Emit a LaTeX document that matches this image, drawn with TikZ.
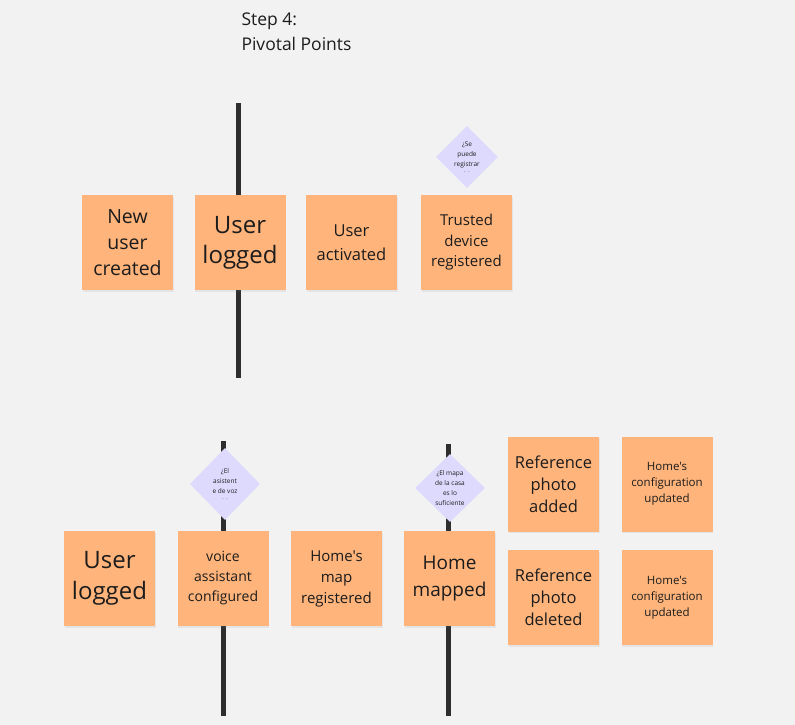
\documentclass[tikz,border=0pt]{standalone}
\usepackage{fontspec}
\setmainfont{Open Sans}[Ligatures=TeXOff]
\usetikzlibrary{shapes.geometric,shadows}
\definecolor{bgc}{HTML}{F2F2F2}
\definecolor{stickyc}{HTML}{FEB47B}
\definecolor{ideac}{HTML}{DDDAFD}
\definecolor{barc}{HTML}{2E2E2E}
\definecolor{inkc}{HTML}{1C1C1C}
\tikzset{
  sticky/.style={rectangle, fill=stickyc, minimum width=91pt, minimum height=95pt,
    inner sep=0pt, align=center, text=inkc, text width=86pt,
    drop shadow={shadow xshift=0.8pt, shadow yshift=-1.5pt, opacity=0.12}},
  idea/.style={diamond, fill=ideac, minimum width=62pt, minimum height=62pt,
    inner sep=0pt, align=center, text=inkc, font=\fontsize{6.5}{10}\selectfont},
  timebar/.style={draw=barc, line width=5pt},
}
\begin{document}
\begin{tikzpicture}[x=1pt,y=-1pt]
\fill[bgc] (0,0) rectangle (795,725);
\useasboundingbox (0,0) rectangle (795,725);

% heading
\node[anchor=north west, align=left, text=inkc, font=\fontsize{17.5}{25}\selectfont] (title) at (238,9) {Step 4:\\Pivotal Points};

% pivot bars
\coordinate (b1t) at (238,103); \coordinate (b1b) at (238,378);
\coordinate (b2t) at (223,441); \coordinate (b2b) at (223,716);
\coordinate (b3t) at (448,444); \coordinate (b3b) at (448,716);
\draw[timebar] (b1t) -- (b1b);
\draw[timebar] (b2t) -- (b2b);
\draw[timebar] (b3t) -- (b3b);

% first row of events
\node[sticky, font=\fontsize{19.5}{26}\selectfont] (s1) at (127.5,242.5) {New\\user\\created};
\node[sticky, font=\fontsize{24}{30}\selectfont] (s2) at (240,242.5) {User\\logged};
\node[sticky, font=\fontsize{16.5}{24}\selectfont] (s3) at (351.5,242.5) {User\\activated};
\node[sticky, font=\fontsize{15}{20.5}\selectfont] (s4) at (466.5,242.5) {Trusted\\device\\registered};
\node[idea] (d1) at (467,157) {¿Se\\puede\\registrar\\[-4pt]{\tiny .\ \ .}};

% second row of events
\node[sticky, font=\fontsize{24}{31}\selectfont] (t1) at (109.5,578.5) {User\\logged};
\node[sticky, font=\fontsize{14}{20}\selectfont] (t2) at (223,578.5) {voice\\assistant\\configured};
\node[sticky, font=\fontsize{15}{21}\selectfont] (t3) at (336.5,578.5) {Home's\\map\\registered};
\node[sticky, font=\fontsize{19}{27}\selectfont] (t4) at (449.5,578.5) {Home\\mapped};
\node[sticky, font=\fontsize{16.5}{22}\selectfont] (t5) at (553.5,484) {Reference\\photo\\added};
\node[sticky, font=\fontsize{11.5}{16}\selectfont] (t6) at (667,484) {Home's\\configuration\\updated};
\node[sticky, font=\fontsize{16.5}{22}\selectfont] (t7) at (553.5,597.5) {Reference\\photo\\deleted};
\node[sticky, font=\fontsize{11.5}{16}\selectfont] (t8) at (667,597.5) {Home's\\configuration\\updated};
\node[idea, minimum width=70pt, minimum height=72pt] (d2) at (225,484) {¿El\\asistent\\e de voz\\[-4pt]{\tiny .\ \ .}};
\node[idea, minimum width=70pt, minimum height=68pt] (d3) at (450,488) {¿El mapa\\de la casa\\es lo\\suficiente};
\end{tikzpicture}
\end{document}
